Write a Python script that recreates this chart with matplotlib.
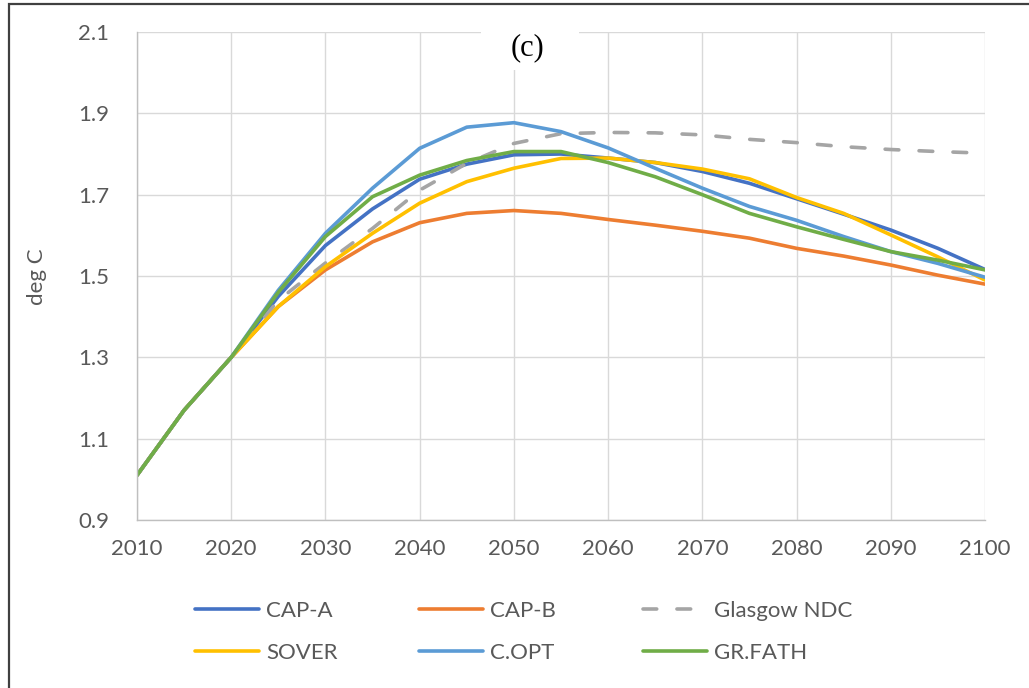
import matplotlib
matplotlib.use("Agg")
import matplotlib.pyplot as plt
from matplotlib.patches import Rectangle

# data (deg C, every 5 years)
years = [2010, 2015, 2020, 2025, 2030, 2035, 2040, 2045, 2050, 2055,
         2060, 2065, 2070, 2075, 2080, 2085, 2090, 2095, 2100]
cap_a = [1.01, 1.17, 1.30, 1.45, 1.575, 1.665, 1.738, 1.775, 1.798, 1.800,
         1.790, 1.779, 1.757, 1.728, 1.690, 1.652, 1.613, 1.568, 1.516]
cap_b = [1.01, 1.17, 1.30, 1.425, 1.515, 1.584, 1.631, 1.654, 1.661, 1.654,
         1.639, 1.625, 1.610, 1.593, 1.568, 1.549, 1.527, 1.502, 1.480]
glasgow = [1.01, 1.17, 1.30, 1.44, 1.532, 1.617, 1.711, 1.777, 1.826, 1.850,
           1.853, 1.852, 1.847, 1.836, 1.828, 1.818, 1.811, 1.806, 1.802]
sover = [1.01, 1.17, 1.30, 1.425, 1.523, 1.605, 1.679, 1.732, 1.765, 1.789,
         1.790, 1.779, 1.763, 1.739, 1.693, 1.654, 1.601, 1.547, 1.490]
c_opt = [1.01, 1.17, 1.30, 1.465, 1.605, 1.716, 1.814, 1.866, 1.877, 1.855,
         1.815, 1.765, 1.716, 1.671, 1.637, 1.597, 1.560, 1.531, 1.497]
gr_fath = [1.01, 1.17, 1.30, 1.46, 1.597, 1.695, 1.748, 1.784, 1.806, 1.806,
           1.779, 1.744, 1.700, 1.654, 1.621, 1.590, 1.560, 1.539, 1.515]

x_ticks = [2010, 2020, 2030, 2040, 2050, 2060, 2070, 2080, 2090, 2100]
y_ticks = [0.9, 1.1, 1.3, 1.5, 1.7, 1.9, 2.1]

plt.rcParams['font.family'] = ['Lato', 'DejaVu Sans']
txt_col = '#595959'
W, H = 1029, 688

fig = plt.figure(figsize=(W / 100, H / 100), dpi=100)
ax = fig.add_axes([137 / W, 1 - 520 / H, (985 - 137) / W, (520 - 32) / H])

lw = 2.6
kw = dict(lw=lw, solid_joinstyle='round', solid_capstyle='round')
l_capa, = ax.plot(years, cap_a, color='#4472C4', label='CAP-A', **kw)
l_capb, = ax.plot(years, cap_b, color='#ED7D31', label='CAP-B', **kw)
l_glas, = ax.plot(years, glasgow, color='#A5A5A5', label='Glasgow NDC', lw=lw,
                  dashes=(3.8, 5.6), dash_capstyle='round')
l_sov, = ax.plot(years, sover, color='#FFC000', label='SOVER', **kw)
l_copt, = ax.plot(years, c_opt, color='#5B9BD5', label='C.OPT', **kw)
l_gr, = ax.plot(years, gr_fath, color='#70AD47', label='GR.FATH', **kw)

ax.set_xlim(2010, 2100)
ax.set_ylim(0.9, 2.1)
ax.set_xticks(x_ticks)
ax.set_yticks(y_ticks)
ax.set_yticklabels(['%.1f' % v for v in y_ticks])
ax.grid(True, color='#d9d9d9', lw=1.0)
ax.set_axisbelow(True)
for s in ['top', 'right']:
    ax.spines[s].set_visible(False)
for s in ['left', 'bottom']:
    ax.spines[s].set_color('#bfbfbf')
    ax.spines[s].set_linewidth(1.0)
ax.tick_params(length=0, labelsize=16, colors=txt_col)
ax.tick_params(axis='y', pad=20)
ax.tick_params(axis='x', pad=14)

fig.text(37 / W, 1 - 277 / H, 'deg C', rotation=90, ha='center', va='center',
         fontsize=16, color=txt_col)

# white box behind the panel tag
fig.add_artist(Rectangle((481 / W, 1 - 70 / H), 98 / W, 40 / H, transform=fig.transFigure,
                         facecolor='white', edgecolor='none', zorder=2))
fig.text(527 / W, 1 - 48 / H, '(c)', ha='center', va='center', fontsize=22,
         family='Liberation Serif', color='black', zorder=3)

# outer frame (only top and left edges fall inside the image)
fig.add_artist(Rectangle((9 / W, -0.2), 1.3, 1.2 - 4 / H, transform=fig.transFigure,
                         facecolor='none', edgecolor='#404040', lw=1.6, zorder=4))

# legend: three columns, two rows each
cols = [(195, [l_capa, l_sov]), (419, [l_capb, l_copt]), (643, [l_glas, l_gr])]
for xpos, hs in cols:
    leg = fig.legend(handles=hs, loc='center left', bbox_to_anchor=(xpos / W, 1 - 632 / H),
                     frameon=False, fontsize=16, handlelength=2.9, handletextpad=0.3,
                     labelspacing=1.0, borderpad=0, borderaxespad=0)
    for t in leg.get_texts():
        t.set_color(txt_col)

fig.savefig('out.png', dpi=100)
